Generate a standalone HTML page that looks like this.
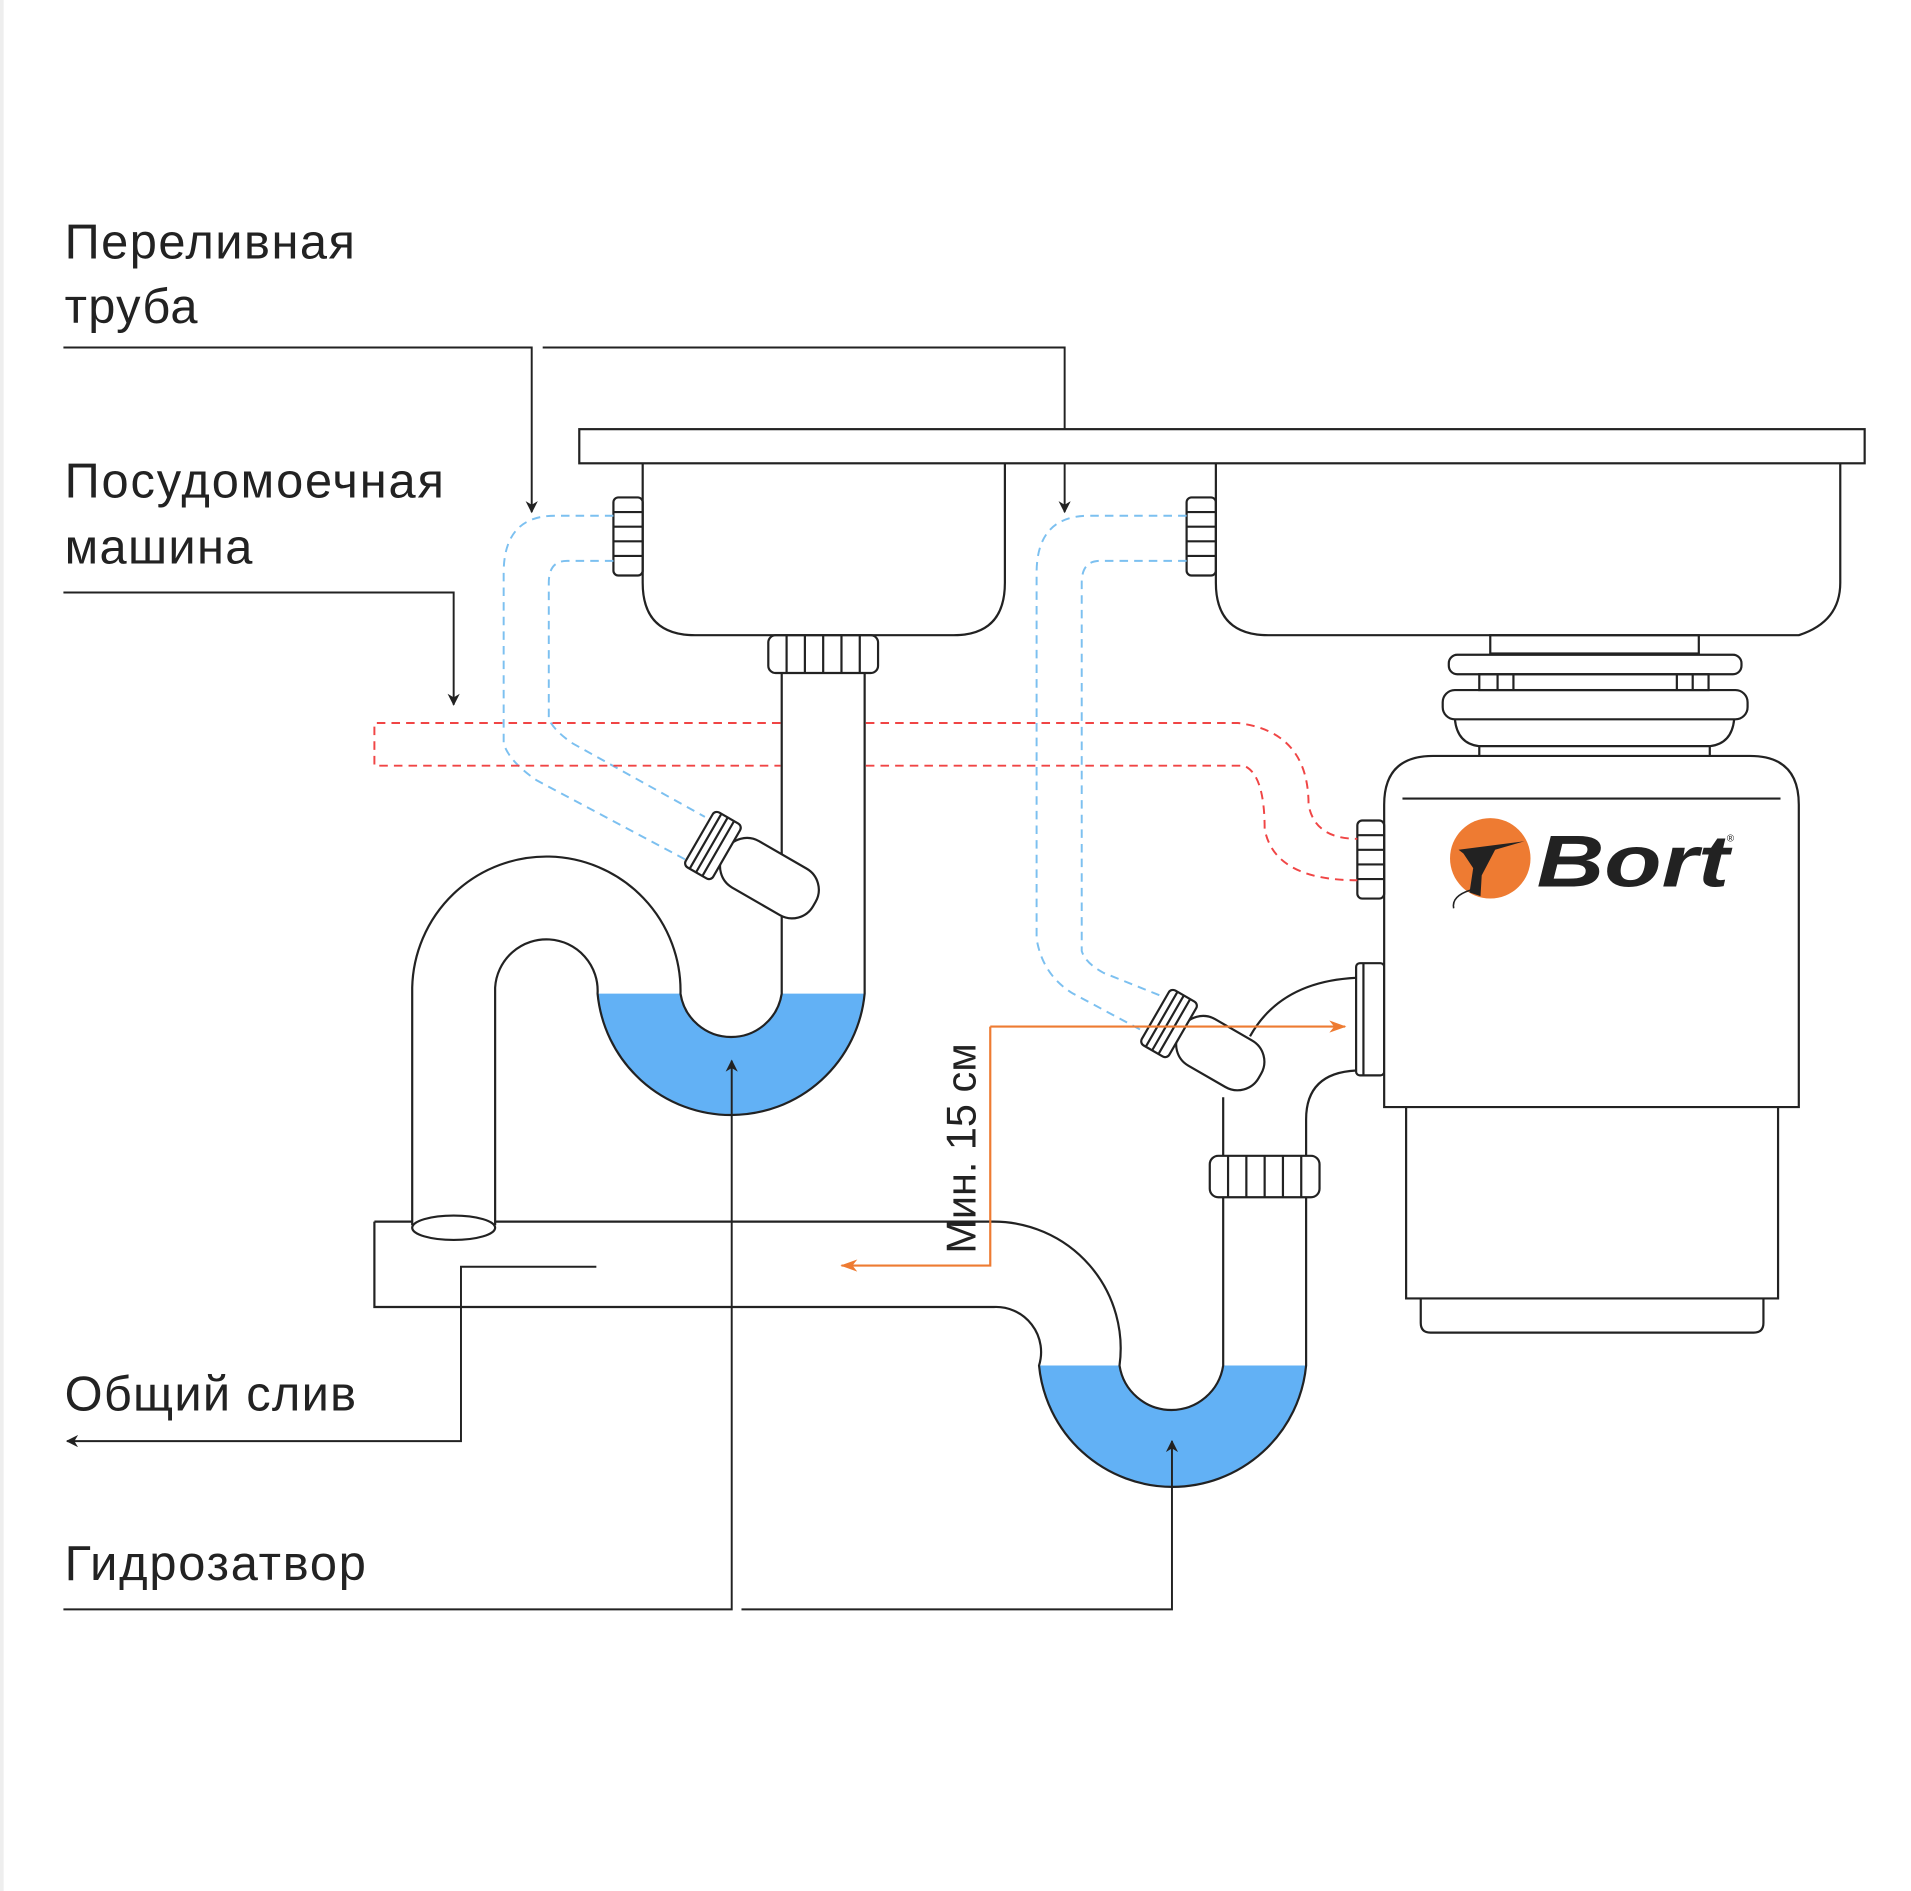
<!DOCTYPE html>
<html><head><meta charset="utf-8"><style>html,body{margin:0;padding:0;background:#fff}svg{display:block}</style></head>
<body>
<svg width="1911" height="1891" viewBox="0 0 1567 1551" preserveAspectRatio="none" xmlns="http://www.w3.org/2000/svg">
<defs>
<marker id="ak" markerWidth="10" markerHeight="10" refX="9" refY="5" orient="auto" markerUnits="userSpaceOnUse"><path d="M0,0 L10,5 L0,10 L3,5z" fill="#222"/></marker>
<marker id="ao" markerWidth="14" markerHeight="10" refX="13" refY="5" orient="auto" markerUnits="userSpaceOnUse"><path d="M0,0 L14,5 L0,10 L4,5z" fill="#ee7b32"/></marker>
</defs>
<rect x="0" y="0" width="3" height="1551" fill="#eee"/>
<g font-family="Liberation Sans, DejaVu Sans, sans-serif" font-size="40" fill="#222" lengthAdjust="spacingAndGlyphs">
<text x="53" y="212" textLength="238">Переливная</text><text x="53" y="265" textLength="109">труба</text>
<text x="53" y="408" textLength="311">Посудомоечная</text><text x="53" y="462" textLength="154">машина</text>
<text x="53" y="1157" textLength="239">Общий слив</text>
<text x="53" y="1296" textLength="247">Гидрозатвор</text>
</g>
<!-- water -->
<path d="M490,815 H558 A42,42 0 0 0 641,815 H709 A110,110 0 0 1 490,815z" fill="#62b1f5"/>
<path d="M852,1120 H918 A43,43 0 0 0 1003,1120 H1071 A110,110 0 0 1 852,1120z" fill="#62b1f5"/>
<g fill="none" stroke="#222" stroke-width="1.6">
<path d="M52,285 H436 V420" marker-end="url(#ak)"/>
<path d="M445,285 H873 V420" marker-end="url(#ak)"/>
<path d="M52,486 H372 V578" marker-end="url(#ak)"/>
<path d="M489,1039 H378 V1182 H55" marker-end="url(#ak)"/>
<path d="M52,1320 H600 V870" marker-end="url(#ak)"/>
<path d="M608,1320 H961 V1182" marker-end="url(#ak)"/>
</g>
<g fill="none" stroke="#222" stroke-width="1.8">
<rect x="475" y="352" width="1054" height="28" fill="#fff"/>
<path d="M527,380 V478 Q527,521 570,521 H782 Q824,521 824,478 V380"/>
<path d="M997,380 V478 Q997,521 1040,521 H1475 Q1509,510 1509,478 V380"/>
<rect x="503" y="408" width="24" height="64" rx="4"/>
<path d="M503,420 H527 M503,432 H527 M503,444 H527 M503,456 H527"/>
<rect x="973" y="408" width="24" height="64" rx="4"/>
<path d="M973,420 H997 M973,432 H997 M973,444 H997 M973,456 H997"/>
<rect x="630" y="521" width="90" height="31" rx="6"/>
<path d="M645,521 V552 M660,521 V552 M675,521 V552 M690,521 V552 M705,521 V552"/>
<path d="M641,552 V815 A42,42 0 0 1 558,815 A110,110 0 0 0 338,810 V1005"/>
<path d="M709,552 V815 A110,110 0 0 1 490,815 A42,42 0 0 0 406,810 V1005"/>
<ellipse cx="372" cy="1007" rx="34" ry="10" fill="#fff"/>
<path d="M406,1002 H815 A104,104 0 0 1 918,1120 A43,43 0 0 0 1003,1120 V982"/>
<path d="M307,1002 H338 M307,1002 V1072 H815 A37,37 0 0 1 852,1120 A110,110 0 0 0 1071,1120 V982"/>
<rect x="992" y="948" width="90" height="34" rx="7"/>
<path d="M1007,948 V982 M1022,948 V982 M1037,948 V982 M1052,948 V982 M1067,948 V982"/>
<path d="M1003,948 V900 M1071,948 V918 Q1071,880 1112,878"/>
<path d="M1025,850 Q1050,805 1112,802"/>
<rect x="1112" y="790" width="23" height="92" rx="3"/>
<path d="M1118,790 V882"/>
<path d="M1135,908 V660 Q1135,620 1175,620 H1435 Q1475,620 1475,660 V908z" fill="#fff"/>
<path d="M1150,655 H1460"/>
<path d="M1153,908 V1065 H1458 V908"/>
<path d="M1165,1065 V1085 Q1165,1093 1173,1093 H1438 Q1446,1093 1446,1085 V1065"/>
<rect x="1113" y="673" width="22" height="64" rx="4"/>
<path d="M1113,685 H1135 M1113,697 H1135 M1113,709 H1135 M1113,721 H1135"/>
<rect x="1222" y="521" width="171" height="15"/>
<rect x="1188" y="537" width="240" height="16" rx="7"/>
<rect x="1213" y="553" width="188" height="13"/>
<path d="M1228,553 V566 M1241,553 V566 M1375,553 V566 M1388,553 V566"/>
<rect x="1183" y="566" width="250" height="24" rx="10"/>
<path d="M1193,590 Q1195,610 1213,612 H1402 Q1420,610 1422,590 M1213,612 V620 M1402,612 V620"/>
<g transform="translate(582,692) rotate(30)" fill="#fff">
<rect x="14" y="-22" width="85" height="44" rx="20"/>
<rect x="-10" y="-26" width="26" height="52" rx="4"/>
<path d="M-4,-26 V26 M2,-26 V26 M8,-26 V26"/>
</g>
<g transform="translate(956,838) rotate(30)" fill="#fff">
<rect x="14" y="-22" width="75" height="44" rx="20"/>
<rect x="-10" y="-26" width="26" height="52" rx="4"/>
<path d="M-4,-26 V26 M2,-26 V26 M8,-26 V26"/>
</g>
</g>
<g fill="none" stroke-width="1.6" stroke-dasharray="7,5">
<path stroke="#7cc0f0" d="M503,423 H455 Q413,423 413,470 V610 Q418,625 440,640 L562,705"/>
<path stroke="#7cc0f0" d="M503,460 H465 Q450,460 450,478 V590 Q455,600 470,610 L578,670"/>
<path stroke="#7cc0f0" d="M973,423 H893 Q850,423 850,470 V770 Q855,800 880,815 L936,845"/>
<path stroke="#7cc0f0" d="M973,460 H902 Q887,460 887,478 V780 Q890,790 905,798 L955,818"/>
<path stroke="#f04545" d="M640,593 H307 V628 H640 M710,593 H1015 Q1073,600 1073,660 Q1078,688 1113,688 M710,628 H1020 Q1037,635 1037,680 Q1045,722 1113,722"/>
</g>
<g fill="none" stroke="#ee7b32" stroke-width="1.8">
<path d="M812,842 H1103" marker-end="url(#ao)"/>
<path d="M812,842 V1038 H690" marker-end="url(#ao)"/>
</g>
<text transform="translate(800,942) rotate(-90)" text-anchor="middle" font-family="Liberation Sans, DejaVu Sans, sans-serif" font-size="34" fill="#222">Мин. 15 см</text>
<circle cx="1222" cy="704" r="33" fill="#ee7b32"/>
<path d="M1196,697 L1250,690 L1226,697 L1215,718 L1214,735 L1205,732 L1208,712 L1200,700z" fill="#222"/>
<path d="M1206,730 Q1190,735 1192,745" stroke="#222" fill="none" stroke-width="1.3"/>
<text x="1260" y="727" font-family="Liberation Sans, DejaVu Sans, sans-serif" font-weight="bold" font-style="italic" font-size="60" fill="#222" textLength="158" lengthAdjust="spacingAndGlyphs">Bort</text>
<text x="1416" y="690" font-family="Liberation Sans, sans-serif" font-size="8" fill="#222">®</text>
</svg>
</body></html>
